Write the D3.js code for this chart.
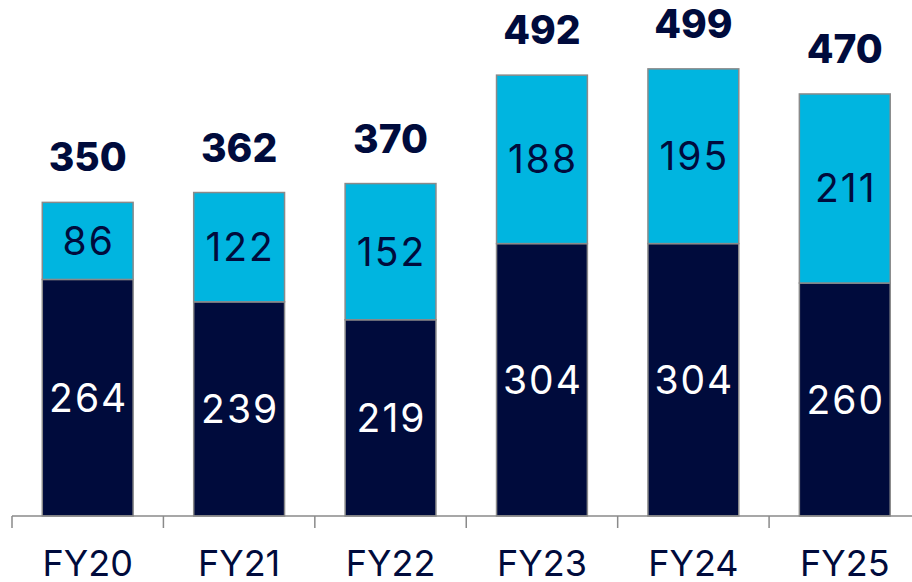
<!DOCTYPE html>
<html>
<head>
<meta charset="utf-8">
<script src="https://cdn.jsdelivr.net/npm/d3@7"></script>
<style>
  body { margin: 0; background: #fff; }
  svg text { font-family: Inter, "Open Sans", sans-serif; }
</style>
</head>
<body>
<div id="chart"></div>
<script>
const categories = ["FY20", "FY21", "FY22", "FY23", "FY24", "FY25"];
const baseValues = [264, 239, 219, 304, 304, 260];
const topValues = [86, 122, 152, 188, 195, 211];
const totals = [350, 362, 370, 492, 499, 470];

const navy = "#000b3c";
const cyan = "#00b5e0";

const width = 912, height = 582;
const svg = d3.select("#chart").append("svg")
    .attr("width", width)
    .attr("height", height);

const x = d3.scaleBand()
    .domain(categories)
    .range([12, 920.5])
    .paddingInner(0.4)
    .paddingOuter(0.2);

const y = d3.scaleLinear()
    .domain([0, 560])
    .range([516, 14.2]);

// stacked bars
const rows = categories.map((c, i) => ({ cat: c, base: baseValues[i], top: topValues[i], total: totals[i] }));

const g = svg.append("g");

g.selectAll("rect.base").data(rows).join("rect")
    .attr("class", "base")
    .attr("x", d => x(d.cat))
    .attr("width", x.bandwidth())
    .attr("y", d => y(d.base))
    .attr("height", d => y(0) - y(d.base))
    .attr("fill", navy)
    .attr("stroke", "#8a8a8a")
    .attr("stroke-width", 1.5);

g.selectAll("rect.top").data(rows).join("rect")
    .attr("class", "top")
    .attr("x", d => x(d.cat))
    .attr("width", x.bandwidth())
    .attr("y", d => y(d.base + d.top))
    .attr("height", d => y(d.base) - y(d.base + d.top))
    .attr("fill", cyan)
    .attr("stroke", "#8a8a8a")
    .attr("stroke-width", 1.5);

// axis: baseline with ticks between categories
const axis = svg.append("g")
    .attr("transform", `translate(0,${y(0)})`);
axis.append("line")
    .attr("x1", 12).attr("x2", width)
    .attr("stroke", "#8a8a8a").attr("stroke-width", 1.5);
axis.selectAll("line.tick").data(categories).join("line")
    .attr("class", "tick")
    .attr("x1", d => x(d) - x.step() * 0.2)
    .attr("x2", d => x(d) - x.step() * 0.2)
    .attr("y1", 0).attr("y2", 12)
    .attr("stroke", "#8a8a8a").attr("stroke-width", 1.5);
axis.selectAll("text").data(categories).join("text")
    .attr("x", d => x(d) + x.bandwidth() / 2)
    .attr("y", 60)
    .attr("text-anchor", "middle")
    .attr("fill", navy)
    .attr("font-size", 36)
    .text(d => d);

// segment labels
g.selectAll("text.base").data(rows).join("text")
    .attr("x", d => x(d.cat) + x.bandwidth() / 2 + 1)
    .attr("y", d => (y(0) + y(d.base)) / 2 + 14)
    .attr("text-anchor", "middle")
    .attr("fill", "#fff")
    .attr("font-size", 39)
    .attr("letter-spacing", 2)
    .text(d => d.base);

g.selectAll("text.top").data(rows).join("text")
    .attr("x", d => x(d.cat) + x.bandwidth() / 2 + 1)
    .attr("y", d => (y(d.base) + y(d.base + d.top)) / 2 + 14)
    .attr("text-anchor", "middle")
    .attr("fill", navy)
    .attr("font-size", 39)
    .attr("letter-spacing", 2)
    .text(d => d.top);

// totals
g.selectAll("text.total").data(rows).join("text")
    .attr("x", d => x(d.cat) + x.bandwidth() / 2)
    .attr("y", d => y(d.base + d.top) - 31)
    .attr("text-anchor", "middle")
    .attr("fill", navy)
    .attr("font-size", 39)
    .attr("font-weight", 800)
    .text(d => d.total);
</script>
</body>
</html>
